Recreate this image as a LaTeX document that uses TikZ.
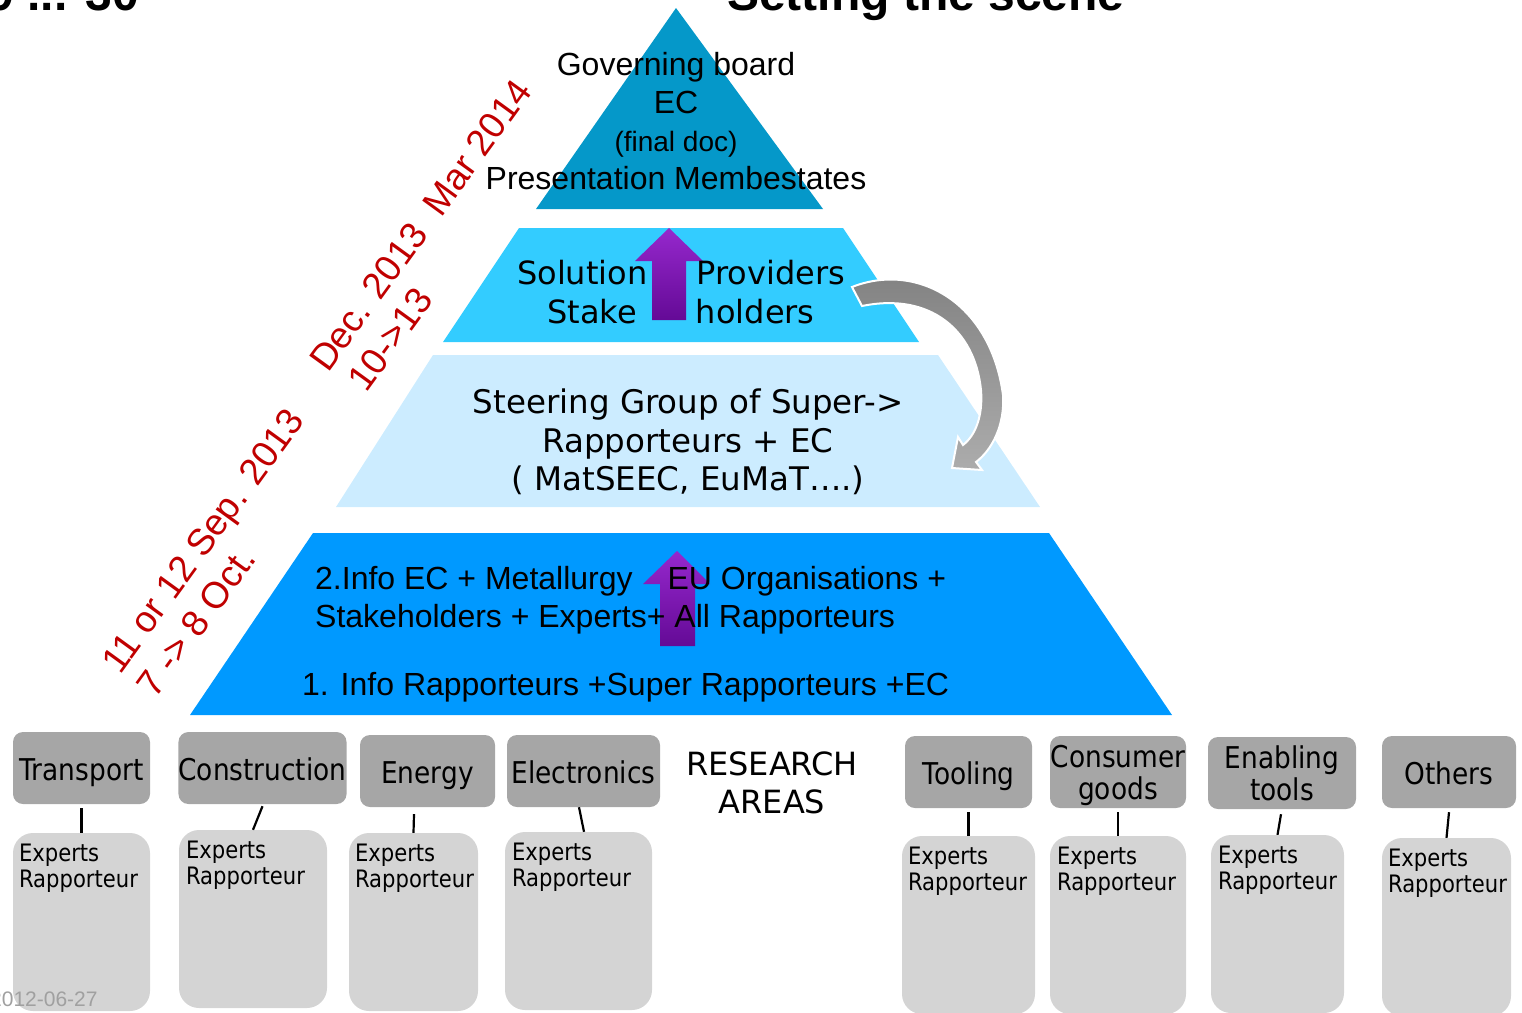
\documentclass[tikz,border=0pt]{standalone}
\usepackage{fontspec}
\setmainfont{Liberation Sans}
\newfontfamily\verdana{DejaVu Sans}
\newfontfamily\boxfont[FakeStretch=0.88]{DejaVu Sans}
\definecolor{topblue}{RGB}{5,152,201}
\definecolor{cyanblue}{RGB}{51,204,255}
\definecolor{paleblue}{RGB}{204,236,255}
\definecolor{deepblue}{RGB}{0,153,255}
\definecolor{datered}{RGB}{192,0,0}
\definecolor{areagray}{RGB}{166,166,166}
\definecolor{expgray}{RGB}{212,212,212}
\definecolor{purplehi}{RGB}{150,40,205}
\definecolor{purplelo}{RGB}{100,10,150}
\definecolor{curvedark}{RGB}{128,128,128}
\definecolor{curvelight}{RGB}{172,172,172}
\definecolor{footgray}{RGB}{160,160,160}

\begin{document}
\begin{tikzpicture}[x=1pt, y=-1pt,
	area/.style={fill=areagray, rounded corners=10pt, inner sep=0pt, align=center, text height=25pt, text depth=0pt, font=\boxfont\fontsize{30}{32}\selectfont},
	twoline/.style={text height=},
	expert/.style={fill=expgray, rounded corners=20pt, inner sep=0pt},
	experttext/.style={anchor=north west, inner sep=0pt, align=left, font=\boxfont\fontsize{24}{26}\selectfont},
	link/.style={line width=2.2pt},
	datelabel/.style={anchor=base west, rotate=54, inner sep=0pt, text=datered, font=\fontsize{37}{44}\selectfont},
	upshade/.style={top color=purplehi, bottom color=purplelo}]
	\useasboundingbox (0,0) rectangle (1522,1012);
	\clip (0,0) rectangle (1522,1012);

	% pyramid
	\fill [topblue] (676,8) -- (823,209) -- (536,209) -- cycle;
	\fill [cyanblue] (519,228) -- (843,228) -- (919,342) -- (443,342) -- cycle;
	\fill [paleblue] (433,355) -- (938,355) -- (1040,507) -- (336,507) -- cycle;
	\fill [deepblue] (313,533) -- (1049,533) -- (1172,715) -- (190,715) -- cycle;

	\shade [upshade] (669,228) -- (703,261) -- (686,261) -- (686,320) -- (652,320) -- (652,261) -- (635,261) -- cycle;
	\shade [upshade] (677,551) -- (710,584) -- (695,584) -- (695,646) -- (660,646) -- (660,584) -- (643,584) -- cycle;

	\node [align=center, font=\fontsize{32}{38}\selectfont] (board) at (676,121) {Governing board\\EC\\{\fontsize{28}{38}\selectfont (final doc)}\\Presentation Membestates};
	\node [align=center, font=\verdana\fontsize{32}{39}\selectfont] (providers) at (681,292) {Solution\hspace{49pt}Providers\\Stake\hspace{59pt}holders};
	\node [align=center, font=\verdana\fontsize{32.5}{38.5}\selectfont] (steering) at (688,442) {Steering Group of Super->\\Rapporteurs + EC\\( MatSEEC, EuMaT….)};
	\node [anchor=west, inner sep=0pt, align=left, font=\fontsize{32}{38}\selectfont] (infotwo) at (315,600) {2.Info EC + Metallurgy\hspace{35pt}EU Organisations +\\Stakeholders + Experts+ All Rapporteurs};
	\node [anchor=west, inner sep=0pt, font=\fontsize{32}{38}\selectfont] (infoone) at (302,687) {1. Info Rapporteurs +Super Rapporteurs +EC};

	\draw [white, line width=2pt, top color=curvedark, bottom color=curvelight]
		(852,287) .. controls (915,262) and (990,300) .. (1003,395)
		.. controls (1005,425) and (992,450) .. (976,462)
		-- (982,470) -- (952,468) -- (958,437) -- (963,445)
		.. controls (976,435) and (983,415) .. (981,390)
		.. controls (975,330) and (930,292) .. (862,306) -- cycle;

	% dates
	\node [datelabel] (sep) at (120,676) {11 or 12 Sep. 2013};
	\node [datelabel] (oct) at (155,700) {7 -> 8 Oct.};
	\node [datelabel] (dec) at (328,374) {Dec. 2013\ \ Mar 2014};
	\node [datelabel] (days) at (366,394) {10->13};

	% research areas
	\node [area, minimum width=137, minimum height=72] (transport) at (81.5,768) {Transport};
	\node [area, minimum width=167, minimum height=72] (construction) at (262.5,768) {Construction};
	\node [area, minimum width=135, minimum height=72] (energy) at (427.5,771) {Energy};
	\node [area, minimum width=153, minimum height=72] (electronics) at (583.5,771) {Electronics};
	\node [area, minimum width=127, minimum height=72] (tooling) at (968.5,772) {Tooling};
	\node [area, twoline, minimum width=136, minimum height=72] (consumer) at (1118,772) {Consumer\\goods};
	\node [area, twoline, minimum width=148, minimum height=72] (enabling) at (1282,773) {Enabling\\tools};
	\node [area, minimum width=134, minimum height=72] (others) at (1449,772) {Others};

	\node [expert, minimum width=137, minimum height=178] (transportexp) at (81.5,922) {};
	\node [expert, minimum width=148, minimum height=178] (constructionexp) at (253,919) {};
	\node [expert, minimum width=129, minimum height=178] (energyexp) at (413.5,922) {};
	\node [expert, minimum width=147, minimum height=178] (electronicsexp) at (578.5,921) {};
	\node [expert, minimum width=133, minimum height=178] (toolingexp) at (968.5,925) {};
	\node [expert, minimum width=136, minimum height=178] (consumerexp) at (1118,925) {};
	\node [expert, minimum width=133, minimum height=178] (enablingexp) at (1277.5,924) {};
	\node [expert, minimum width=129, minimum height=178] (othersexp) at (1446.5,927) {};

	\node [experttext] (transporttxt) at ([shift={(6,11)}]transportexp.north west) {Experts\\Rapporteur};
	\node [experttext] (constructiontxt) at ([shift={(7,11)}]constructionexp.north west) {Experts\\Rapporteur};
	\node [experttext] (energytxt) at ([shift={(6,11)}]energyexp.north west) {Experts\\Rapporteur};
	\node [experttext] (electronicstxt) at ([shift={(7,11)}]electronicsexp.north west) {Experts\\Rapporteur};
	\node [experttext] (toolingtxt) at ([shift={(6,11)}]toolingexp.north west) {Experts\\Rapporteur};
	\node [experttext] (consumertxt) at ([shift={(7,11)}]consumerexp.north west) {Experts\\Rapporteur};
	\node [experttext] (enablingtxt) at ([shift={(7,11)}]enablingexp.north west) {Experts\\Rapporteur};
	\node [experttext] (otherstxt) at ([shift={(6,11)}]othersexp.north west) {Experts\\Rapporteur};

	\draw [link] ([shift={(0,4)}]transport.south) -- (transportexp.north);
	\draw [link] ([shift={(0,2)}]construction.south) -- (constructionexp.north);
	\draw [link] ([shift={(-13.5,7)}]energy.south) -- (energyexp.north);
	\draw [link] ([shift={(-4.5,0)}]electronics.south) -- ([shift={(5.5,0)}]electronicsexp.north);
	\draw [link] ([shift={(0,4)}]tooling.south) -- (toolingexp.north);
	\draw [link] ([shift={(0,4)}]consumer.south) -- (consumerexp.north);
	\draw [link] ([shift={(-1,5)}]enabling.south) -- (enablingexp.north);
	\draw [link] ([shift={(0,4)}]others.south) -- (othersexp.north);

	\node [align=center, font=\verdana\fontsize{32}{38}\selectfont] (research) at (772,783) {RESEARCH\\AREAS};

	%\node at (0,0) {slide};
	\node [anchor=base west, inner sep=0pt, text=footgray, font=\fontsize{21}{24}\selectfont] (date) at (-10,1006) {2012-06-27};
	\node [anchor=base west, inner sep=0pt, font=\bfseries\fontsize{48}{54}\selectfont] (title) at (727,10) {Setting the scene};
	\node [anchor=base east, inner sep=0pt, font=\bfseries\fontsize{48}{54}\selectfont] (prevtitle) at (139,10) {9 ... 30};
\end{tikzpicture}
\end{document}
